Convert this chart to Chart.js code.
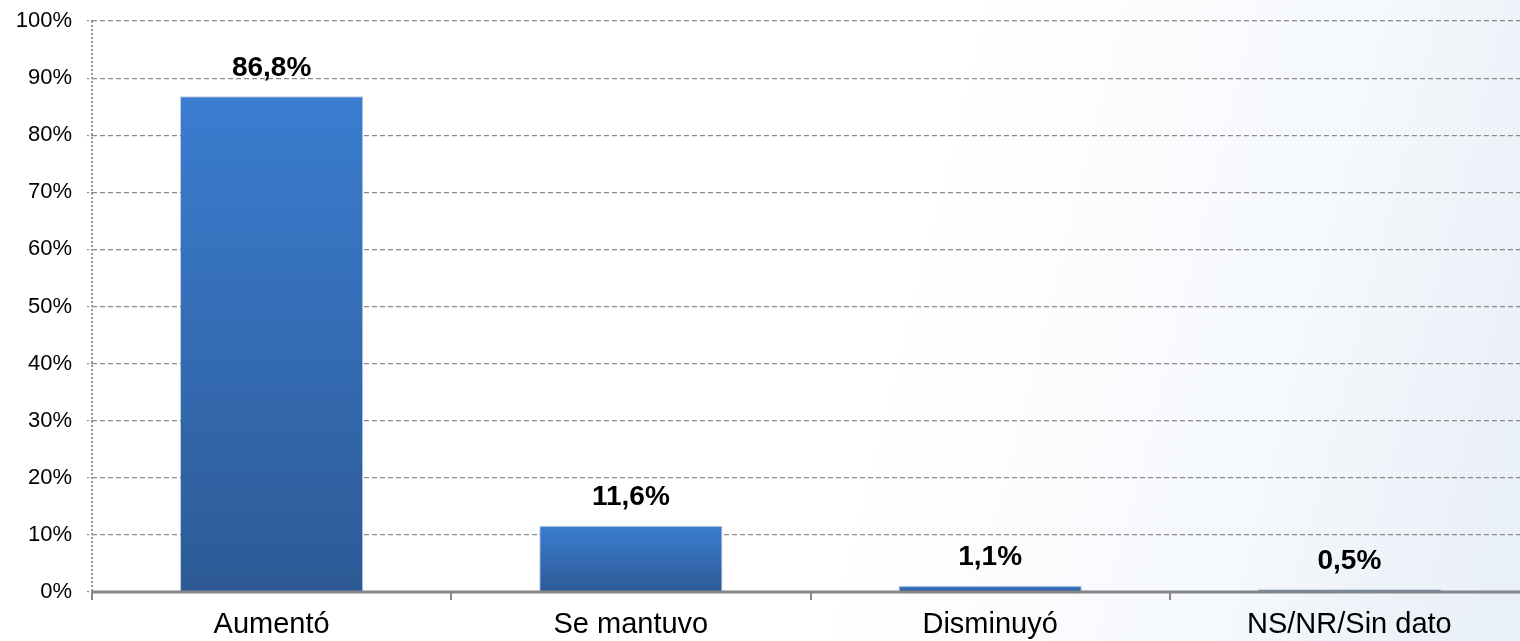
<!DOCTYPE html>
<html><head><meta charset="utf-8">
<script src="https://cdn.jsdelivr.net/npm/chart.js@4"></script>
<style>html,body{margin:0;padding:0;background:#fff;overflow:hidden;}#wrap{width:1520px;height:641px;position:relative;overflow:hidden;}</style>
</head><body><div id="wrap"><canvas id="c" width="1530" height="641"></canvas></div>
<script>
const categories = ["Aumentó", "Se mantuvo", "Disminuyó", "NS/NR/Sin dato"];
const values = [86.8, 11.6, 1.1, 0.5];
const valueLabels = ["86,8%", "11,6%", "1,1%", "0,5%"];
const yTicks = [0,10,20,30,40,50,60,70,80,90,100];

const FONT = '"Liberation Sans", Arial, sans-serif';
const bgPlugin = {
  id:'bg',
  beforeDraw(chart){
    const ctx = chart.ctx;
    const g = ctx.createLinearGradient(0,0,chart.width,chart.height*0.6);
    g.addColorStop(0,'#ffffff');
    g.addColorStop(0.6,'#ffffff');
    g.addColorStop(0.85,'#f5f8fc');
    g.addColorStop(1,'#eaf0f8');
    ctx.save(); ctx.fillStyle=g; ctx.fillRect(0,0,chart.width,chart.height); ctx.restore();
  }
};
const labelPlugin = {
  id:'lbl',
  afterDatasetsDraw(chart){
    const ctx = chart.ctx;
    const meta = chart.getDatasetMeta(0);
    ctx.save();
    ctx.font = 'bold 28px ' + FONT;
    ctx.fillStyle = '#000';
    ctx.textAlign='center'; ctx.textBaseline='middle';
    meta.data.forEach((bar,i)=>{ ctx.fillText(valueLabels[i], bar.x, bar.y-28); });
    ctx.restore();
  }
};
const axisPlugin = {
  id:'axl',
  afterDraw(chart){
    const ctx=chart.ctx, a=chart.chartArea;
    ctx.save();
    ctx.strokeStyle='#999'; ctx.lineWidth=2; ctx.setLineDash([2,2]);
    ctx.beginPath(); ctx.moveTo(a.left, a.top); ctx.lineTo(a.left, a.bottom); ctx.stroke();
    ctx.setLineDash([]); ctx.strokeStyle='#858585'; ctx.lineWidth=3;
    ctx.beginPath(); ctx.moveTo(a.left, a.bottom); ctx.lineTo(a.right, a.bottom); ctx.stroke();
    ctx.restore();
  }
};

new Chart(document.getElementById('c').getContext('2d'),{
  type:'bar',
  data:{labels:categories,datasets:[{
    data:values,
    backgroundColor(c){
      const ch=c.chart, a=ch.chartArea, ys=ch.scales.y;
      if(!a || !ys || c.parsed===undefined) return '#3670bb';
      const top = ys.getPixelForValue(c.parsed.y), bot = ys.getPixelForValue(0);
      if(bot-top < 2) return '#3a74c2';
      const g=ch.ctx.createLinearGradient(0,top,0,bot);
      g.addColorStop(0,'#3b7dd0'); g.addColorStop(1,'#2d5a96'); return g;
    },
    borderColor:'rgba(40,80,140,0.3)', borderWidth:1,
    barPercentage:0.51, categoryPercentage:1
  }]},
  options:{
    responsive:false, animation:false,
    layout:{padding:{top:21,right:1,left:0,bottom:0}},
    plugins:{legend:{display:false},tooltip:{enabled:false}},
    scales:{
      x:{
        grid:{offset:true,drawOnChartArea:false,color:'#888',tickLength:8,lineWidth:2},
        border:{display:false},
        ticks:{color:'#000',font:{size:29,family:FONT},padding:8},
        afterFit(s){s.height=49; s.paddingLeft=0; s.paddingRight=0;}
      },
      y:{
        min:0,max:100,
        afterBuildTicks(s){s.ticks=yTicks.map(v=>({value:v}));},
        grid:{color:'#8a8a8a',lineWidth:1.2,tickLength:5,tickBorderDash:[2,2]},
        border:{display:false,dash:[5,3]},
        ticks:{color:'#000',font:{size:22,family:FONT},padding:15,callback:v=>v+'%'},
        afterFit(s){s.width=92; s.paddingTop=0; s.paddingBottom=0;}
      }
    }
  },
  plugins:[bgPlugin,labelPlugin,axisPlugin]
});
</script>
<script>
const ch = Chart.getChart('c');
ch.options.scales.y.grid.borderDash=[5,3];
ch.options.scales.y.border.dash=[5,3];
ch.update();
</script>
</body></html>
